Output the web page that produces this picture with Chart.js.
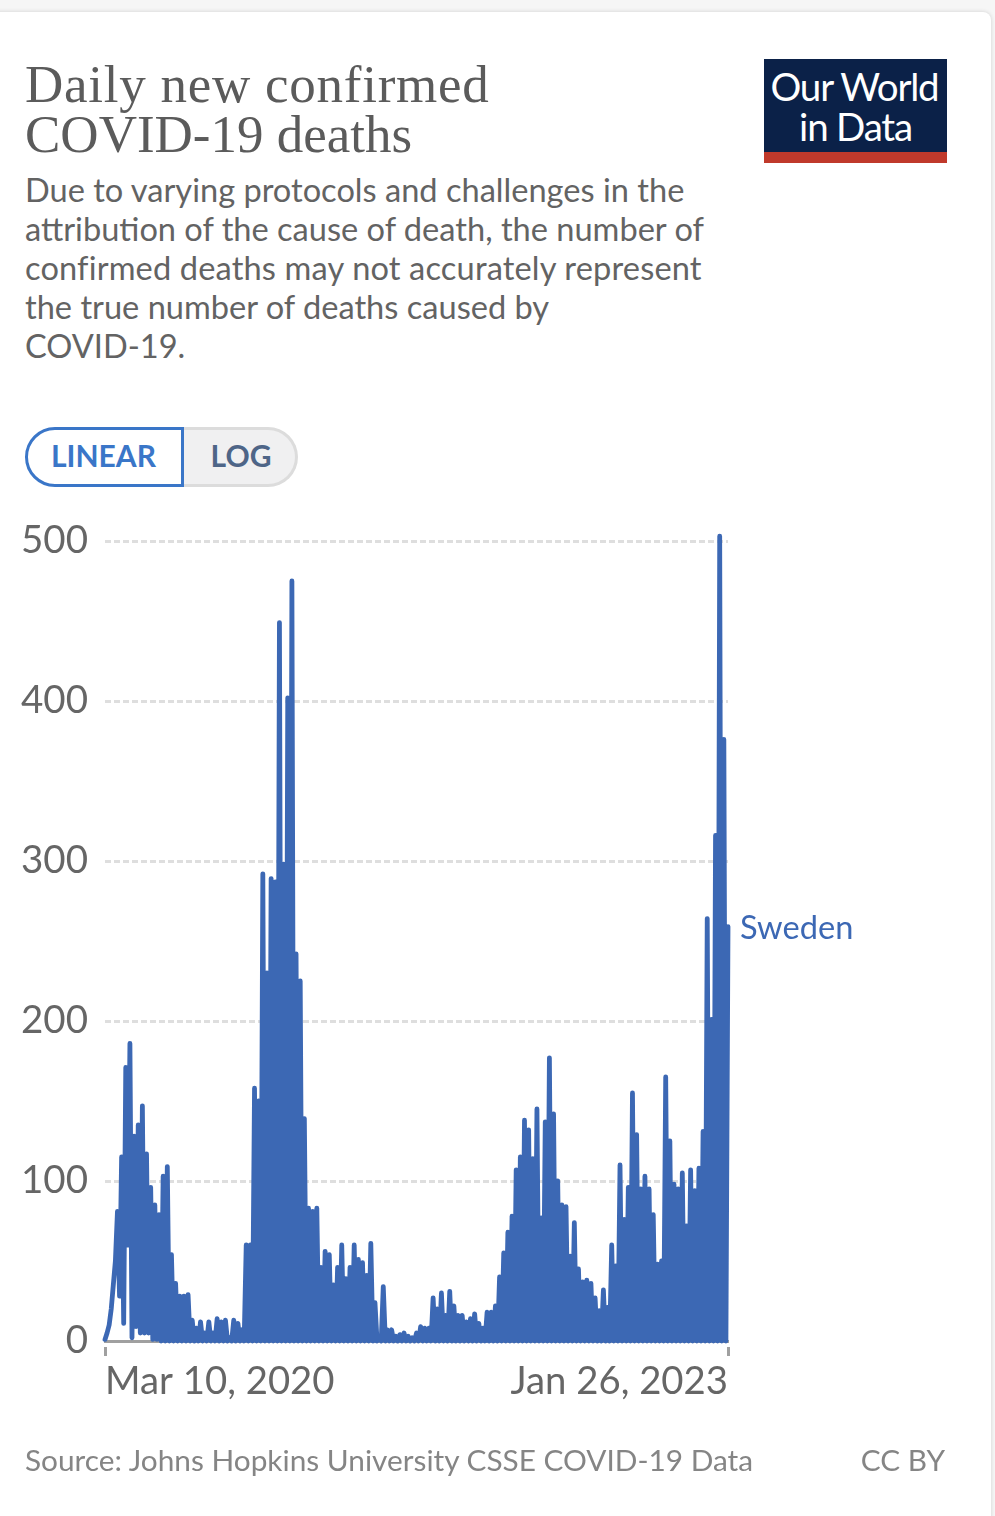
<!DOCTYPE html>
<html>
<head>
<meta charset="utf-8">
<title>Daily new confirmed COVID-19 deaths</title>
<script src="https://cdn.jsdelivr.net/npm/chart.js@4"></script>
<style>
  html, body { margin: 0; padding: 0; background: #f6f6f6; }
  body { width: 995px; height: 1516px; position: relative; overflow: hidden; font-family: Lato, sans-serif; color: #5b5b5b; }
  #card { position: absolute; left: -20px; top: 12px; width: 1011px; height: 1540px; background: #fff; border-radius: 8px; box-shadow: 0 0 4px rgba(0,0,0,0.16); }
  #chart { position: absolute; left: 0; top: 0; }
  h1 { position: absolute; left: 25px; top: 59px; margin: 0; font: 400 53px/50px "Liberation Serif", serif; color: #5b5b5b; white-space: nowrap; }
  h1 span { letter-spacing: 0.75px; }
  #subtitle { position: absolute; left: 25px; top: 170px; font-size: 32.6px; line-height: 39px; white-space: nowrap; color: #636363; }
  #subtitle span { letter-spacing: 0.15px; }
  #logo { position: absolute; left: 764px; top: 59px; width: 183px; height: 86px; background: #0b2148; border-bottom: 11px solid #c0392b; color: #fff; text-align: center; font-size: 38.5px; line-height: 40px; letter-spacing: -1.2px; padding-top: 7px; text-indent: -2px; }
  .toggle { position: absolute; top: 427px; height: 60px; box-sizing: border-box; line-height: 50px; font-size: 30px; font-weight: 700; text-align: center; }
  #linear { left: 25px; width: 159px; border: 3px solid #3a76c8; border-radius: 30px 0 0 30px; color: #3a76c8; background: #fff; padding-right: 2px; }
  #log { left: 184px; width: 114px; border: 3px solid #dcdcdc; border-left: 0; border-radius: 0 30px 30px 0; color: #4e6587; background: #f0f0f1; padding-left: 3px; }
  #source { position: absolute; left: 25px; top: 1442px; font-size: 29.8px; line-height: 36px; color: #858585; white-space: nowrap; }
  #license { position: absolute; right: 50px; top: 1442px; font-size: 29.8px; line-height: 36px; color: #858585; }
</style>
</head>
<body>
<div id="card"></div>
<h1><span>Daily new confirmed</span><br>COVID-19 deaths</h1>
<div id="subtitle">Due to varying protocols and challenges in the<br>attribution of the cause of death, the number of<br><span>confirmed deaths may not accurately represent</span><br>the true number of deaths caused by<br>COVID-19.</div>
<div id="logo">Our World<br>in Data</div>
<div class="toggle" id="linear">LINEAR</div>
<div class="toggle" id="log">LOG</div>
<canvas id="chart" width="995" height="1516"></canvas>
<div id="source">Source: Johns Hopkins University CSSE COVID-19 Data</div>
<div id="license">CC BY</div>
<script>
// weekly reporting peaks, Sweden
const weeklyDeaths = [
  1, 10, 35, 81, 115, 171, 186, 128, 135, 147,
  117, 96, 85, 79, 103, 109, 54, 36, 28, 28,
  29, 13, 8, 12, 5, 12, 5, 14, 12, 13,
  2, 13, 11, 7, 60, 60, 158, 150, 292, 230,
  289, 287, 449, 298, 402, 475, 242, 225, 139, 83,
  81, 83, 46, 56, 54, 35, 46, 60, 39, 46,
  60, 51, 49, 41, 61, 24, 2, 34, 7, 7,
  3, 4, 5, 3, 2, 5, 9, 8, 8, 27,
  20, 30, 16, 31, 22, 16, 16, 12, 14, 17,
  11, 8, 18, 18, 22, 40, 55, 68, 78, 107,
  115, 138, 132, 114, 145, 77, 137, 177, 142, 100,
  85, 84, 53, 74, 45, 37, 38, 36, 27, 19,
  32, 21, 60, 47, 110, 76, 96, 155, 129, 95,
  103, 95, 79, 48, 50, 165, 125, 98, 95, 105,
  72, 107, 94, 108, 131, 264, 201, 316, 503, 376,
  259
];
// in the first months the days between peaks did not drop to zero
const earlyLows = [5, 20, 50, 28, 11, 60, 2, 9, 5, 5, 5, 1, 1];
const yTicks = [0, 100, 200, 300, 400, 500];
const dateLabels = ['Mar 10, 2020', 'Jan 26, 2023'];
const seriesName = 'Sweden';

const points = [];
weeklyDeaths.forEach((v, i) => {
  points.push({ x: i, y: v });
  if (i < weeklyDeaths.length - 1) points.push({ x: i + 0.5, y: earlyLows[i] || 0 });
});

const blue = '#3c68b4';

const lineLabel = {
  id: 'lineLabel',
  afterDraw(chart) {
    const { ctx, scales } = chart;
    const last = weeklyDeaths[weeklyDeaths.length - 1];
    ctx.save();
    ctx.font = '32.6px Lato';
    ctx.fillStyle = blue;
    ctx.textBaseline = 'middle';
    ctx.fillText(seriesName, scales.x.right + 12, scales.y.getPixelForValue(last) + 2);
    ctx.restore();
  }
};

new Chart(document.getElementById('chart').getContext('2d'), {
  type: 'line',
  data: {
    datasets: [{
      label: seriesName,
      data: points,
      borderColor: blue,
      borderWidth: 4.8,
      borderJoinStyle: 'round',
      borderCapStyle: 'round',
      pointRadius: 0,
      tension: 0,
      fill: false,
      clip: false
    }]
  },
  options: {
    responsive: false,
    animation: false,
    devicePixelRatio: 1,
    layout: { padding: { top: 541, right: 267, bottom: 115, left: 0 } },
    plugins: { legend: { display: false }, tooltip: { enabled: false } },
    scales: {
      x: {
        type: 'linear',
        min: 0,
        max: weeklyDeaths.length - 1,
        afterBuildTicks: axis => { axis.ticks = [{ value: axis.min }, { value: axis.max }]; },
        afterFit: axis => { axis.height = 60; },
        grid: { drawOnChartArea: false, color: '#a0a0a0', tickLength: 15, tickWidth: 3, tickBorderDash: [0, 4, 11, 50] },
        border: { color: '#a0a0a0', width: 3 },
        ticks: {
          align: 'inner',
          maxRotation: 0,
          padding: 3,
          color: '#666',
          font: { family: 'Lato', size: 38.3 },
          callback: v => (v === 0 ? dateLabels[0] : dateLabels[1])
        }
      },
      y: {
        min: 0,
        max: 500,
        afterBuildTicks: axis => { axis.ticks = yTicks.map(value => ({ value })); },
        afterFit: axis => { axis.width = 105; },
        grid: { color: '#dedede', lineWidth: 3, drawTicks: false },
        border: { display: false, dash: [6, 3] },
        ticks: {
          padding: 17,
          color: '#666',
          font: { family: 'Lato', size: 38.5 }
        }
      }
    }
  },
  plugins: [lineLabel]
});
</script>
</body>
</html>
